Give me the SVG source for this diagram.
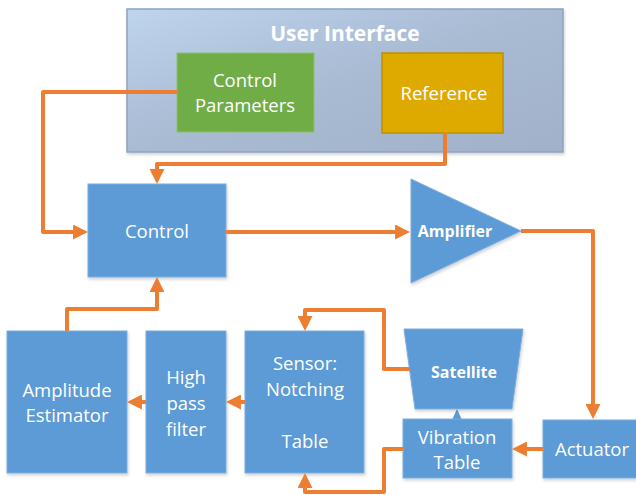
<svg xmlns="http://www.w3.org/2000/svg" width="636" height="495" viewBox="0 0 636 495">
<style>
.node{fill:#5B9BD5;stroke:#7DAEE0;stroke-width:1;filter:url(#sh)}
.t{font-family:"Open Sans","Liberation Sans",sans-serif;font-size:18.5px;fill:#fff;text-anchor:middle}
.b{font-family:"Open Sans","Liberation Sans",sans-serif;font-size:16px;font-weight:bold;fill:#fff;text-anchor:middle}
.c{fill:none;stroke:#ED7D31;stroke-width:4;stroke-linejoin:round;marker-end:url(#ah)}
</style>
<defs>
<linearGradient id="ug" x1="0" y1="0" x2="1" y2="1">
<stop offset="0" stop-color="#BFD4ED"/>
<stop offset="0.5" stop-color="#A9BAD3"/>
<stop offset="1" stop-color="#A1B1CA"/>
</linearGradient>
<filter id="sh" x="-10%" y="-10%" width="130%" height="130%">
<feDropShadow dx="1" dy="2" stdDeviation="1.5" flood-color="#000" flood-opacity="0.18"/>
</filter>
<marker id="ah" viewBox="0 0 10 10" refX="3.3" refY="5" markerWidth="3.75" markerHeight="3.75" orient="auto" markerUnits="strokeWidth">
<path d="M0,0 L10,5 L0,10 Z" fill="#ED7D31"/>
</marker>
</defs>

<g id="user-interface">
<rect x="127" y="9" width="436" height="143" fill="url(#ug)" stroke="#8FA2BE" stroke-width="1.5" filter="url(#sh)"/>
<text x="345" y="41" font-family="'Open Sans','Liberation Sans',sans-serif" font-size="21" font-weight="bold" fill="#fff" text-anchor="middle">User Interface</text>
</g>
<g id="control-parameters">
<rect x="177" y="53" width="137" height="79" fill="#70AD47" stroke="#8CC168" stroke-width="1"/>
<text class="t" x="245" y="87">Control</text>
<text class="t" x="245" y="112">Parameters</text>
</g>
<g id="reference">
<rect x="382" y="53" width="121" height="80" fill="#DEAA00" stroke="#BC9000" stroke-width="1.5"/>
<text class="t" x="444" y="100">Reference</text>
</g>
<g id="control">
<rect class="node" x="88" y="184" width="138" height="93"/>
<text class="t" x="157" y="238">Control</text>
</g>
<g id="amplifier">
<polygon class="node" points="411,179 411,283 521,231"/>
<text class="b" x="455" y="237">Amplifier</text>
</g>
<g id="actuator">
<rect class="node" x="543" y="420" width="100" height="58"/>
<text class="t" x="592" y="456">Actuator</text>
</g>
<g id="vibration-table">
<polygon points="452,420 457,409 462,420" fill="#5B9BD5"/>
<rect class="node" x="403" y="419" width="109" height="59"/>
<text class="t" x="457" y="444">Vibration</text>
<text class="t" x="457" y="469">Table</text>
</g>
<g id="satellite">
<polygon class="node" points="404,329 523,329 512,409 415,409"/>
<text class="b" x="464" y="378">Satellite</text>
</g>
<g id="sensor">
<rect class="node" x="245" y="331" width="119" height="142"/>
<text class="t" x="305" y="370">Sensor:</text>
<text class="t" x="305" y="396">Notching</text>
<text class="t" x="305" y="448">Table</text>
</g>
<g id="high-pass-filter">
<rect class="node" x="146" y="331" width="80" height="142"/>
<text class="t" x="186" y="384">High</text>
<text class="t" x="186" y="410">pass</text>
<text class="t" x="186" y="436">filter</text>
</g>
<g id="amplitude-estimator">
<rect class="node" x="7" y="331" width="120" height="142"/>
<text class="t" x="67" y="397">Amplitude</text>
<text class="t" x="67" y="422">Estimator</text>
</g>

<g id="connectors">
<path class="c" d="M177,92 H43 V232 H78"/>
<path class="c" d="M445,133 V164 H157 V174"/>
<path class="c" d="M226,232 H400"/>
<path class="c" d="M521,231 H593 V409"/>
<path class="c" d="M543,449 H522"/>
<path class="c" d="M410,369 H384 V310 H305 V321"/>
<path class="c" d="M403,449 H384 V492 H305 V483"/>
<path class="c" d="M245,402 H236"/>
<path class="c" d="M146,402 H137"/>
<path class="c" d="M67,331 V309 H157 V287"/>
</g>
</svg>
